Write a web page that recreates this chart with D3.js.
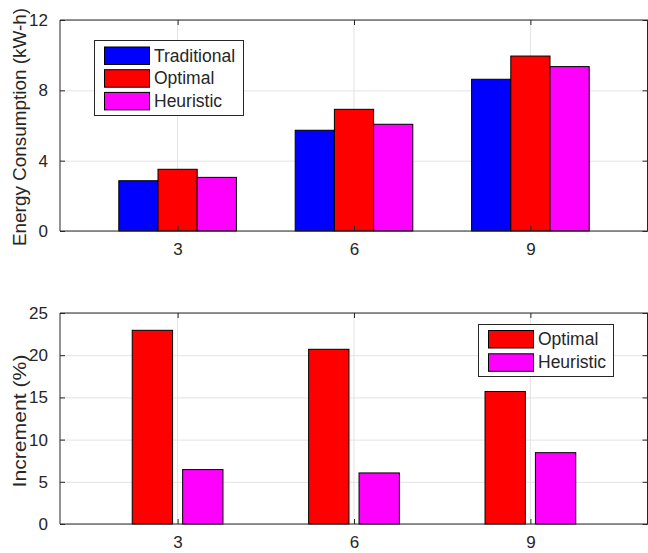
<!DOCTYPE html>
<html>
<head>
<meta charset="utf-8">
<script src="https://cdn.jsdelivr.net/npm/d3@7"></script>
<style>
  body { margin: 0; background: #fff; }
  text { font-family: "Liberation Sans", Arial, Helvetica, sans-serif; fill: #262626; }
</style>
</head>
<body>
<svg id="chart" width="648" height="553"></svg>
<script>
// categories on the x axis
var groups = [3, 6, 9];

// top panel: energy consumption (kW-h)
var traditional = [2.86, 5.73, 8.63];
var optimal = [3.51, 6.92, 9.95];
var heuristic = [3.05, 6.07, 9.35];

// bottom panel: increment (%)
var incOptimal = [22.95, 20.7, 15.7];
var incHeuristic = [6.45, 6.05, 8.45];

var topTicks = [0, 4, 8, 12];
var bottomTicks = [0, 5, 10, 15, 20, 25];

var svg = d3.select("#chart");

var x = d3.scaleLinear().domain([1, 11]).range([60, 648]);

function drawPanel(opts) {
    var y = d3.scaleLinear().domain(opts.yDomain).range([opts.bottom, opts.top]);
    var g = svg.append("g");

    // grid lines
    g.selectAll(".hgrid").data(opts.yTicks).enter().append("line")
        .attr("x1", x(1)).attr("x2", x(11))
        .attr("y1", function (d) { return y(d) + 0.5; })
        .attr("y2", function (d) { return y(d) + 0.5; })
        .attr("stroke", "#e3e3e3").attr("stroke-width", 1);
    g.selectAll(".vgrid").data(groups).enter().append("line")
        .attr("x1", function (d) { return x(d); })
        .attr("x2", function (d) { return x(d); })
        .attr("y1", opts.top).attr("y2", opts.bottom)
        .attr("stroke", "#e3e3e3").attr("stroke-width", 1);

    // bars
    opts.series.forEach(function (s, i) {
        g.selectAll(".bar" + i).data(s.values).enter().append("rect")
            .attr("x", function (d, j) { return x(groups[j] + s.offset - opts.barWidth / 2); })
            .attr("width", x(1 + opts.barWidth) - x(1))
            .attr("y", function (d) { return y(d); })
            .attr("height", function (d) { return y(0) - y(d); })
            .attr("fill", s.color)
            .attr("stroke", "#000")
            .attr("stroke-width", 1);
    });

    // box and axes
    var axisColor = "#262626";
    g.append("line").attr("x1", x(1)).attr("x2", x(11))
        .attr("y1", opts.bottom).attr("y2", opts.bottom)
        .attr("stroke", axisColor);
    g.append("line").attr("x1", x(1)).attr("x2", x(11))
        .attr("y1", opts.top).attr("y2", opts.top)
        .attr("stroke", axisColor);
    g.append("line").attr("x1", x(1)).attr("x2", x(1))
        .attr("y1", opts.top).attr("y2", opts.bottom)
        .attr("stroke", axisColor);
    g.append("line").attr("x1", x(11) - 0.5).attr("x2", x(11) - 0.5)
        .attr("y1", opts.top).attr("y2", opts.bottom)
        .attr("stroke", axisColor);

    // y ticks (inward, both sides)
    var yAxisCall = d3.axisLeft(y).tickValues(opts.yTicks).tickSizeInner(-5).tickSizeOuter(0).tickPadding(12);
    var ya = g.append("g").attr("transform", "translate(" + x(1) + ",0)").call(yAxisCall);
    ya.select(".domain").remove();
    ya.selectAll("line").attr("stroke", axisColor);
    ya.selectAll("text").attr("font-size", "17px").attr("fill", axisColor)
        .style("font-family", "'Liberation Sans', Arial, sans-serif");
    var yr = g.append("g").attr("transform", "translate(" + (x(11) - 0.5) + ",0)")
        .call(d3.axisRight(y).tickValues(opts.yTicks).tickSizeInner(-5).tickSizeOuter(0).tickFormat(""));
    yr.select(".domain").remove();
    yr.selectAll("line").attr("stroke", axisColor);

    // x ticks (inward, both sides)
    var xAxisCall = d3.axisBottom(x).tickValues(groups).tickSizeInner(-5).tickSizeOuter(0).tickPadding(12);
    var xa = g.append("g").attr("transform", "translate(0," + opts.bottom + ")").call(xAxisCall);
    xa.select(".domain").remove();
    xa.selectAll("line").attr("stroke", axisColor);
    xa.selectAll("text").attr("font-size", "17px").attr("fill", axisColor)
        .style("font-family", "'Liberation Sans', Arial, sans-serif");
    var xt = g.append("g").attr("transform", "translate(0," + opts.top + ")")
        .call(d3.axisTop(x).tickValues(groups).tickSizeInner(-5).tickSizeOuter(0).tickFormat(""));
    xt.select(".domain").remove();
    xt.selectAll("line").attr("stroke", axisColor);

    // y label
    g.append("text")
        .attr("transform", "translate(" + opts.labelX + "," + opts.labelY + ") rotate(-90)")
        .attr("text-anchor", "middle")
        .attr("font-size", "18.5px")
        .attr("textLength", opts.labelLength)
        .attr("lengthAdjust", "spacingAndGlyphs")
        .text(opts.label);

    // legend
    var lg = opts.legend;
    g.append("rect")
        .attr("x", lg.x + 0.5).attr("y", lg.y + 0.5)
        .attr("width", lg.w).attr("height", lg.h)
        .attr("fill", "#fff").attr("stroke", "#262626").attr("stroke-width", 1);
    opts.series.forEach(function (s, i) {
        var ry = lg.y + lg.padTop + i * lg.step;
        g.append("rect")
            .attr("x", lg.x + lg.swX + 0.5).attr("y", ry + 0.5)
            .attr("width", lg.swW).attr("height", lg.swH)
            .attr("fill", s.color).attr("stroke", "#000");
        g.append("text")
            .attr("x", lg.x + lg.textX).attr("y", ry + lg.swH / 2)
            .attr("dy", "0.36em")
            .attr("font-size", "17.5px")
            .attr("fill", "#000")
            .text(s.name);
    });
}

// top panel
drawPanel({
    top: 20, bottom: 231,
    yDomain: [0, 12], yTicks: topTicks,
    barWidth: 2 / 3,
    series: [
        {name: "Traditional", values: traditional, color: "#0000ff", offset: -2 / 3},
        {name: "Optimal", values: optimal, color: "#ff0000", offset: 0},
        {name: "Heuristic", values: heuristic, color: "#ff00ff", offset: 2 / 3}
    ],
    label: "Energy Consumption (kW-h)",
    labelX: 26, labelY: 127, labelLength: 238,
    legend: {x: 94, y: 40, w: 149, h: 75, padTop: 6.5, step: 22.7, swX: 10, swW: 45, swH: 17.5, textX: 60}
});

// bottom panel
drawPanel({
    top: 313, bottom: 524,
    yDomain: [0, 25], yTicks: bottomTicks,
    barWidth: 0.686,
    series: [
        {name: "Optimal", values: incOptimal, color: "#ff0000", offset: -0.4286},
        {name: "Heuristic", values: incHeuristic, color: "#ff00ff", offset: 0.4286}
    ],
    label: "Increment (%)",
    labelX: 26, labelY: 421, labelLength: 133,
    legend: {x: 478, y: 324, w: 135, h: 52, padTop: 6, step: 23.3, swX: 10, swW: 45, swH: 17.5, textX: 60}
});
</script>
</body>
</html>
